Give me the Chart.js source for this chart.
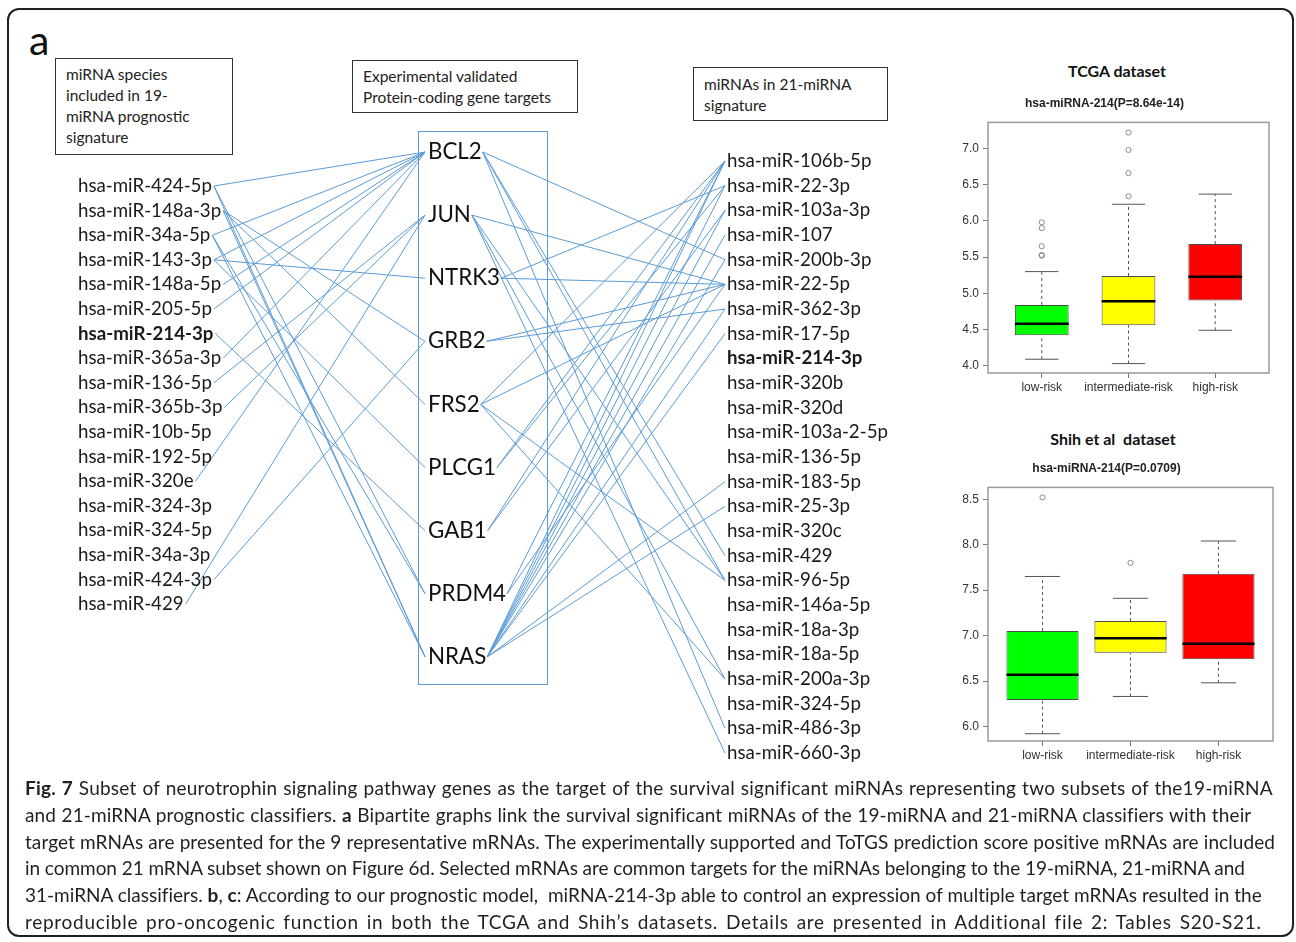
<!DOCTYPE html>
<html>
<head>
<meta charset="utf-8">
<script src="https://cdn.jsdelivr.net/npm/chart.js@4.4.0/dist/chart.umd.min.js"></script>
<style>
  body { margin: 0; width: 1296px; height: 942px; background: #fff; overflow: hidden; position: relative; font-family: Lato, sans-serif; color: #222; }
  #frame { position: absolute; left: 7px; top: 8px; width: 1283px; height: 925px; border: 2.5px solid #231f20; border-radius: 12px; }
  .note { position: absolute; border: 1.5px solid #333; font: 15.5px Lato, sans-serif; color: #222; line-height: 21px; box-sizing: border-box; }
  #geneBox { position: absolute; left: 418px; top: 131px; width: 130px; height: 554px; border: 1.5px solid #5b9bd5; box-sizing: border-box; }
  #panelA { position: absolute; left: 29px; top: 15px; font: 41px Lato, sans-serif; color: #111; }
  canvas { position: absolute; }
  .ttl { position: absolute; font: bold 16px Lato, sans-serif; color: #111; text-align: center; }
  #caption { position: absolute; left: 25px; top: 775px; font: 19px Lato, sans-serif; color: #231f20; line-height: 26.8px; }
  #caption div { white-space: nowrap; }
</style>
</head>
<body>
<div id="frame"></div>
<div id="panelA">a</div>
<div class="note" style="left:55px;top:58px;width:178px;height:97px;padding:5px 0 0 10px;">miRNA species<br>included in 19-<br>miRNA prognostic<br>signature</div>
<div class="note" style="left:352px;top:60px;width:226px;height:53px;padding:5px 0 0 10px;">Experimental validated<br>Protein-coding gene targets</div>
<div class="note" style="left:693px;top:67px;width:195px;height:54px;padding:6px 0 0 10px;">miRNAs in 21-miRNA<br>signature</div>
<div id="geneBox"></div>
<canvas id="graph" width="940" height="780" style="left:0;top:0"></canvas>

<div class="ttl" style="left:1017px;top:61px;width:200px;">TCGA dataset</div>
<div class="ttl" style="left:1013px;top:429px;width:200px;">Shih et al&nbsp; dataset</div>
<canvas id="box1" width="350" height="315" style="left:940px;top:90px"></canvas>
<canvas id="box2" width="350" height="318" style="left:940px;top:455px"></canvas>

<div id="caption">
<div><b>Fig. 7</b> Subset of neurotrophin signaling pathway genes as the target of the survival significant miRNAs representing two subsets of the19-miRNA</div>
<div>and 21-miRNA prognostic classifiers. <b>a</b> Bipartite graphs link the survival significant miRNAs of the 19-miRNA and 21-miRNA classifiers with their</div>
<div>target mRNAs are presented for the 9 representative mRNAs. The experimentally supported and ToTGS prediction score positive mRNAs are included</div>
<div>in common 21 mRNA subset shown on Figure 6d. Selected mRNAs are common targets for the miRNAs belonging to the 19-miRNA, 21-miRNA and</div>
<div>31-miRNA classifiers. <b>b</b>, <b>c</b>: According to our prognostic model,&nbsp; miRNA-214-3p able to control an expression of multiple target mRNAs resulted in the</div>
<div>reproducible pro-oncogenic function in both the TCGA and Shih’s datasets. Details are presented in Additional file 2: Tables S20-S21.</div>
</div>

<script>
// ---- bipartite graph data ----
const leftMirnas = ['hsa-miR-424-5p', 'hsa-miR-148a-3p', 'hsa-miR-34a-5p', 'hsa-miR-143-3p', 'hsa-miR-148a-5p',
  'hsa-miR-205-5p', 'hsa-miR-214-3p', 'hsa-miR-365a-3p', 'hsa-miR-136-5p', 'hsa-miR-365b-3p', 'hsa-miR-10b-5p',
  'hsa-miR-192-5p', 'hsa-miR-320e', 'hsa-miR-324-3p', 'hsa-miR-324-5p', 'hsa-miR-34a-3p', 'hsa-miR-424-3p', 'hsa-miR-429'];
const genes = ['BCL2', 'JUN', 'NTRK3', 'GRB2', 'FRS2', 'PLCG1', 'GAB1', 'PRDM4', 'NRAS'];
const rightMirnas = ['hsa-miR-106b-5p', 'hsa-miR-22-3p', 'hsa-miR-103a-3p', 'hsa-miR-107', 'hsa-miR-200b-3p',
  'hsa-miR-22-5p', 'hsa-miR-362-3p', 'hsa-miR-17-5p', 'hsa-miR-214-3p', 'hsa-miR-320b', 'hsa-miR-320d',
  'hsa-miR-103a-2-5p', 'hsa-miR-136-5p', 'hsa-miR-183-5p', 'hsa-miR-25-3p', 'hsa-miR-320c', 'hsa-miR-429',
  'hsa-miR-96-5p', 'hsa-miR-146a-5p', 'hsa-miR-18a-3p', 'hsa-miR-18a-5p', 'hsa-miR-200a-3p', 'hsa-miR-324-5p',
  'hsa-miR-486-3p', 'hsa-miR-660-3p'];
const boldMirna = 'hsa-miR-214-3p';

// miRNA (19-miRNA signature) -> gene
const leftLinks = [
  ['hsa-miR-424-5p', 'BCL2'], ['hsa-miR-424-5p', 'PRDM4'], ['hsa-miR-424-5p', 'NRAS'],
  ['hsa-miR-148a-3p', 'GRB2'], ['hsa-miR-148a-3p', 'FRS2'], ['hsa-miR-148a-3p', 'NRAS'],
  ['hsa-miR-34a-5p', 'BCL2'], ['hsa-miR-34a-5p', 'PRDM4'], ['hsa-miR-34a-5p', 'NRAS'],
  ['hsa-miR-143-3p', 'BCL2'], ['hsa-miR-143-3p', 'NTRK3'], ['hsa-miR-143-3p', 'PLCG1'],
  ['hsa-miR-148a-5p', 'BCL2'], ['hsa-miR-205-5p', 'BCL2'], ['hsa-miR-214-3p', 'GAB1'],
  ['hsa-miR-365a-3p', 'BCL2'], ['hsa-miR-136-5p', 'JUN'], ['hsa-miR-365b-3p', 'JUN'],
  ['hsa-miR-320e', 'BCL2'], ['hsa-miR-424-3p', 'GRB2'], ['hsa-miR-429', 'JUN']
];
// gene -> miRNA (21-miRNA signature)
const rightLinks = [
  ['BCL2', 'hsa-miR-200b-3p'], ['BCL2', 'hsa-miR-429'], ['BCL2', 'hsa-miR-96-5p'], ['BCL2', 'hsa-miR-486-3p'],
  ['JUN', 'hsa-miR-22-5p'], ['JUN', 'hsa-miR-96-5p'], ['JUN', 'hsa-miR-200a-3p'], ['JUN', 'hsa-miR-660-3p'],
  ['NTRK3', 'hsa-miR-22-3p'], ['NTRK3', 'hsa-miR-22-5p'],
  ['GRB2', 'hsa-miR-22-5p'], ['GRB2', 'hsa-miR-362-3p'],
  ['FRS2', 'hsa-miR-106b-5p'], ['FRS2', 'hsa-miR-22-5p'], ['FRS2', 'hsa-miR-96-5p'], ['FRS2', 'hsa-miR-200a-3p'],
  ['PLCG1', 'hsa-miR-106b-5p'], ['PLCG1', 'hsa-miR-22-3p'],
  ['GAB1', 'hsa-miR-106b-5p'], ['GAB1', 'hsa-miR-103a-3p'],
  ['PRDM4', 'hsa-miR-106b-5p'], ['PRDM4', 'hsa-miR-22-5p'],
  ['NRAS', 'hsa-miR-106b-5p'], ['NRAS', 'hsa-miR-22-3p'], ['NRAS', 'hsa-miR-103a-3p'], ['NRAS', 'hsa-miR-107'],
  ['NRAS', 'hsa-miR-200b-3p'], ['NRAS', 'hsa-miR-362-3p'], ['NRAS', 'hsa-miR-17-5p'], ['NRAS', 'hsa-miR-183-5p'],
  ['NRAS', 'hsa-miR-25-3p']
];

// ---- boxplot data ----
const riskGroups = ['low-risk', 'intermediate-risk', 'high-risk'];
const boxColors = ['#00ff00', '#ffff00', '#ff0000'];
// [lower whisker, q1, median, q3, upper whisker]
const tcgaLow = [4.09, 4.42, 4.58, 4.84, 5.30];
const tcgaMid = [4.03, 4.56, 4.89, 5.24, 6.23];
const tcgaHigh = [4.49, 4.90, 5.23, 5.68, 6.37];
const tcgaOutliers = [[5.52, 5.53, 5.65, 5.90, 5.98], [6.34, 6.66, 6.98, 7.22], []];
const tcgaTicks = [4.0, 4.5, 5.0, 5.5, 6.0, 6.5, 7.0];
const shihLow = [5.92, 6.29, 6.57, 7.05, 7.65];
const shihMid = [6.33, 6.81, 6.97, 7.16, 7.41];
const shihHigh = [6.48, 6.74, 6.91, 7.68, 8.04];
const shihOutliers = [[8.52], [7.80], []];
const shihTicks = [6.0, 6.5, 7.0, 7.5, 8.0, 8.5];

const LINE_BLUE = '#5b9bd5';

// caption: spread each line (mostly letter spacing, a bit of word spacing) to the original line length
const captionWidths = [1248, 1226, 1251, 1220, 1237, 1237];
document.querySelectorAll('#caption div').forEach((d, i) => {
  d.style.display = 'inline-block';
  const w = d.getBoundingClientRect().width;
  const txt = d.textContent.trim();
  const gaps = (txt.match(/[ \u00a0]/g) || []).length;
  const extra = captionWidths[i] - w;
  d.style.letterSpacing = (extra * 0.7 / txt.length).toFixed(3) + 'px';
  d.style.wordSpacing = (extra * 0.3 / gaps).toFixed(3) + 'px';
  d.style.display = 'block';
});

// ---- layout of the graph ----
const LEFT_X = 78, GENE_X = 428, RIGHT_X = 727;
const leftY = i => 186 + i * 24.6;
const geneY = k => 152 + k * 63.1;
const rightY = i => 161 + i * 24.67;

const mctx = document.createElement('canvas').getContext('2d');
function fitSize(text, target, weight) {
  mctx.font = `${weight} 20px Lato`;
  return 20 * target / mctx.measureText(text).width;
}
const labelSize = fitSize('hsa-miR-424-5p', 134, 'normal');
const geneSize = fitSize('NTRK3', 72, 'normal');
function textW(t, size, weight) {
  mctx.font = `${weight} ${size}px Lato`;
  return mctx.measureText(t).width;
}
const weightOf = t => (t === boldMirna ? 'bold' : 'normal');

const edgeSets = [];
leftLinks.forEach(([m, g]) => {
  const i = leftMirnas.indexOf(m), k = genes.indexOf(g);
  edgeSets.push({ data: [
    { x: LEFT_X + textW(m, labelSize, weightOf(m)) + 2, y: leftY(i) },
    { x: GENE_X - 3, y: geneY(k) }
  ] });
});
rightLinks.forEach(([g, m]) => {
  const i = rightMirnas.indexOf(m), k = genes.indexOf(g);
  edgeSets.push({ data: [
    { x: GENE_X + textW(g, geneSize, 'normal') + 1, y: geneY(k) },
    { x: RIGHT_X - 2, y: rightY(i) }
  ] });
});
edgeSets.forEach(d => Object.assign(d, {
  showLine: true, borderColor: LINE_BLUE, borderWidth: 1, pointRadius: 0, fill: false
}));

const nodeLabels = {
  id: 'nodeLabels',
  afterDatasetsDraw(chart) {
    const { ctx, scales: { x, y } } = chart;
    ctx.save();
    ctx.fillStyle = '#1a1a1a';
    ctx.textBaseline = 'middle';
    ctx.textAlign = 'left';
    leftMirnas.forEach((m, i) => {
      ctx.font = `${weightOf(m)} ${labelSize}px Lato`;
      ctx.fillText(m, x.getPixelForValue(LEFT_X), y.getPixelForValue(leftY(i)));
    });
    rightMirnas.forEach((m, i) => {
      ctx.font = `${weightOf(m)} ${labelSize}px Lato`;
      ctx.fillText(m, x.getPixelForValue(RIGHT_X), y.getPixelForValue(rightY(i)));
    });
    ctx.font = `${geneSize}px Lato`;
    ctx.fillStyle = '#111';
    genes.forEach((g, k) => ctx.fillText(g, x.getPixelForValue(GENE_X), y.getPixelForValue(geneY(k))));
    ctx.restore();
  }
};

new Chart(document.getElementById('graph'), {
  type: 'scatter',
  data: { datasets: edgeSets },
  options: {
    responsive: false, animation: false, events: [],
    layout: { padding: 0 },
    plugins: { legend: { display: false }, tooltip: { enabled: false } },
    scales: {
      x: { type: 'linear', min: 0, max: 940, display: false },
      y: { type: 'linear', min: 0, max: 780, reverse: true, display: false }
    }
  },
  plugins: [nodeLabels]
});

// ---- boxplots ----
const boxExtras = {
  id: 'boxExtras',
  beforeDatasetsDraw(chart) {
    const { ctx, scales: { x, y } } = chart;
    const o = chart.options.plugins.boxExtras;
    const meta = chart.getDatasetMeta(0);
    ctx.save();
    o.stats.forEach((s, i) => {
      const cx = x.getPixelForValue(i + 1);
      const half = meta.data[i].width * o.cap / 2;
      ctx.strokeStyle = '#555';
      ctx.lineWidth = 1;
      ctx.setLineDash([3, 3]);
      ctx.beginPath();
      ctx.moveTo(cx, y.getPixelForValue(s[0])); ctx.lineTo(cx, y.getPixelForValue(s[1]));
      ctx.moveTo(cx, y.getPixelForValue(s[3])); ctx.lineTo(cx, y.getPixelForValue(s[4]));
      ctx.stroke();
      ctx.setLineDash([]);
      ctx.beginPath();
      ctx.moveTo(cx - half, y.getPixelForValue(s[0])); ctx.lineTo(cx + half, y.getPixelForValue(s[0]));
      ctx.moveTo(cx - half, y.getPixelForValue(s[4])); ctx.lineTo(cx + half, y.getPixelForValue(s[4]));
      ctx.stroke();
    });
    ctx.restore();
  },
  afterDatasetsDraw(chart) {
    const { ctx, chartArea: a, scales: { y } } = chart;
    const o = chart.options.plugins.boxExtras;
    const meta = chart.getDatasetMeta(0);
    ctx.save();
    o.stats.forEach((s, i) => {
      const bar = meta.data[i];
      ctx.strokeStyle = '#000';
      ctx.lineWidth = 2.5;
      ctx.beginPath();
      ctx.moveTo(bar.x - bar.width / 2, y.getPixelForValue(s[2]));
      ctx.lineTo(bar.x + bar.width / 2, y.getPixelForValue(s[2]));
      ctx.stroke();
    });
    ctx.strokeStyle = '#9a9a9a';
    ctx.lineWidth = 1.5;
    ctx.strokeRect(a.left, a.top, a.right - a.left, a.bottom - a.top);
    ctx.restore();
  }
};

function boxChart(id, stats, outliers, ticks, yMin, yMax, widthPct, cap, subtitle, padRight) {
  const tickFont = { family: 'Liberation Sans, Arial', size: 12 };
  return new Chart(document.getElementById(id), {
    data: {
      datasets: [
        {
          type: 'bar',
          data: stats.map((s, i) => ({ x: i + 1, y: [s[1], s[3]] })),
          backgroundColor: boxColors, borderColor: '#4a4a4a', borderWidth: 1, borderSkipped: false,
          categoryPercentage: 1, barPercentage: widthPct
        },
        {
          type: 'scatter',
          data: outliers.flatMap((vals, i) => vals.map(v => ({ x: i + 1, y: v }))),
          pointStyle: 'circle', pointRadius: 2.6, borderWidth: 1,
          borderColor: '#8a8a8a', backgroundColor: 'rgba(0,0,0,0)'
        }
      ]
    },
    options: {
      responsive: false, animation: false, events: [],
      layout: { padding: { left: 0, right: padRight, top: 0, bottom: 8 } },
      plugins: {
        legend: { display: false }, tooltip: { enabled: false },
        title: { display: true, text: subtitle, color: '#222', font: { family: 'Liberation Sans, Arial', size: 12, weight: 'bold' }, padding: { top: 6, bottom: 12 } },
        boxExtras: { stats, cap }
      },
      scales: {
        x: {
          type: 'linear', min: 0.38, max: 3.62, offset: false,
          afterBuildTicks: s => { s.ticks = riskGroups.map((g, i) => ({ value: i + 1 })); },
          afterFit: s => { s.height = 24; },
          ticks: { callback: v => riskGroups[v - 1], color: '#333', font: tickFont, padding: 2, autoSkip: false, maxRotation: 0 },
          grid: { offset: false, drawOnChartArea: false, drawTicks: true, tickLength: 5, color: '#777' },
          border: { display: false }
        },
        y: {
          min: yMin, max: yMax,
          afterBuildTicks: s => { s.ticks = ticks.map(v => ({ value: v })); },
          afterFit: s => { s.width = 48; },
          ticks: { callback: v => v.toFixed(1), color: '#333', font: tickFont, padding: 4 },
          grid: { drawOnChartArea: false, drawTicks: true, tickLength: 5, color: '#777' },
          border: { display: false }
        }
      }
    },
    plugins: [boxExtras]
  });
}

boxChart('box1', [tcgaLow, tcgaMid, tcgaHigh], tcgaOutliers, tcgaTicks, 3.9, 7.36, 0.62, 0.62, 'hsa-miRNA-214(P=8.64e-14)', 21);
boxChart('box2', [shihLow, shihMid, shihHigh], shihOutliers, shihTicks, 5.84, 8.63, 0.82, 0.49, 'hsa-miRNA-214(P=0.0709)', 17);
</script>
</body>
</html>
